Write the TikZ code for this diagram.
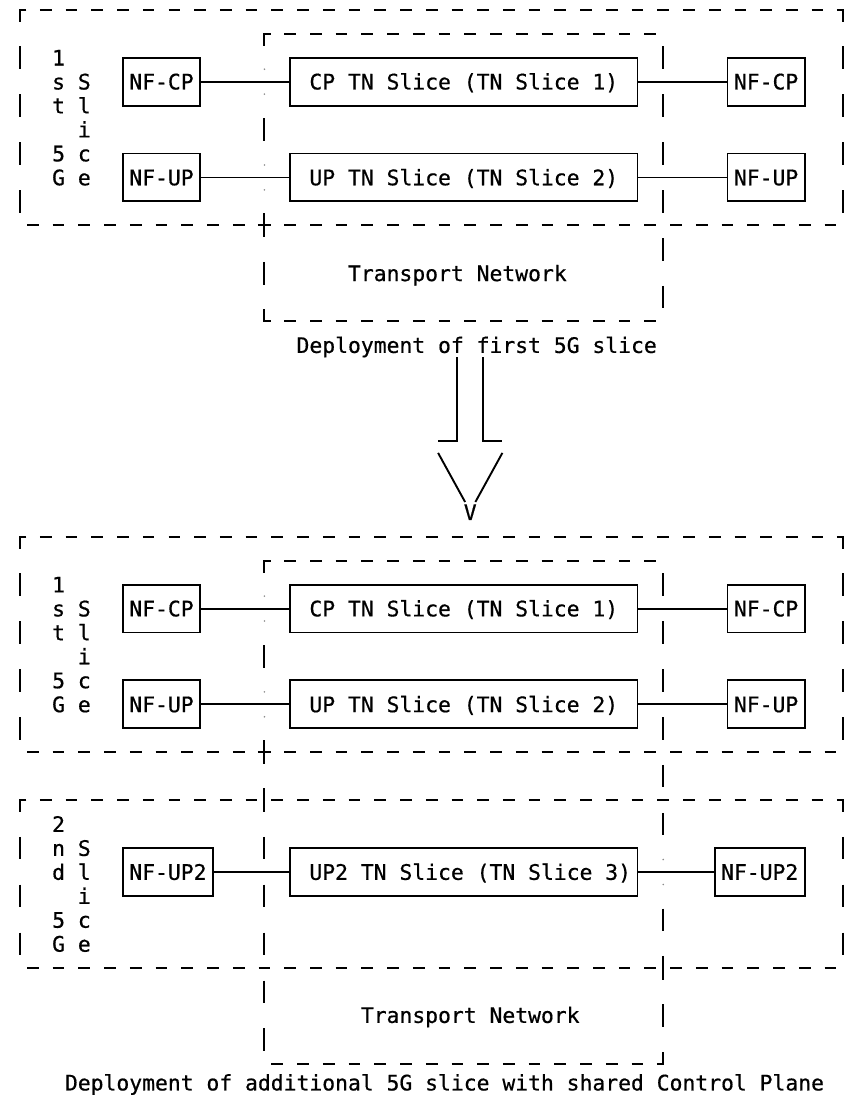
\documentclass[tikz,border=0pt]{standalone}
\usepackage{fontspec}
\newfontfamily\asciifont{DejaVu Sans Mono}[FakeBold=0.6]
% character cell of the monospaced grid
\def\colw{12.864pt}
\def\rowh{23.95pt}
\tikzset{
  ink/.style={line width=1.9pt, black},
  glyphs/.style={font={\asciifont\fontsize{21.37pt}{24pt}\selectfont}},
  nfbox/.style={draw, ink, glyphs, inner sep=0pt, minimum height=2*\rowh,
                text height=15.6pt, text depth=0pt},
  lbl/.style={glyphs, inner sep=0pt, anchor=base},
  link/.style={ink},
  speck/.style={fill=black!45, draw=none},
}
% a row of dash glyphs: row, first column, second column, last column
\newcommand\hdashes[4]{%
  \foreach \cc in {#2,#3,...,#4} \draw[ink] (\cc-0.455,#1) -- (\cc+0.455,#1);}
% vertical bar glyphs in one column: column, list of rows
\newcommand\vbars[2]{%
  \foreach \rr in {#2} \draw[ink] (#1,\rr-0.47) -- (#1,\rr+0.47);}
% tiny specks just above and below a line crossing a border
\newcommand\specks[2]{%
  \fill[speck] (#1,#2-0.52) circle (0.9pt);
  \fill[speck] (#1,#2+0.52) circle (0.9pt);}
\begin{document}
\begin{tikzpicture}[x=\colw, y=-\rowh]
\useasboundingbox (-20pt,9.8pt) rectangle (832pt,-1088.2pt);

% ================= first deployment =================
% 1st 5G slice region
\draw[ink] (0.5,0) -- (0,0) -- (0,0.5);
\hdashes{0}{2}{4}{62}
\draw[ink] (63.5,0) -- (64,0) -- (64,0.5);
\vbars{0}{2,4,6,8}
\vbars{64}{2,4,6,8}
\hdashes{9}{1}{3}{17}
\hdashes{9}{21}{23}{63}
\draw[ink] (18.5,9) -- (19.5,9) (19,8.5) -- (19,9.5);
% transport network region
\draw[ink] (19.5,1) -- (19,1) -- (19,1.5);
\hdashes{1}{21}{23}{49}
\vbars{19}{5,11}
\draw[ink] (19,12.5) -- (19,13) -- (19.5,13);
\hdashes{13}{21}{23}{49}
\vbars{50}{2,4,6,8,10,12}
\specks{19}{3}
\specks{19}{7}

% slice label
\foreach \ch/\cc/\rr [count=\i] in {1/3/2, s/3/3, t/3/4, 5/3/6, G/3/7,
    S/5/3, l/5/4, i/5/5, c/5/6, e/5/7}
  \node[lbl] (firstA\i) at (\cc,\rr+0.326) {\ch};

% network functions and TN slices
\node[nfbox, minimum width=6*\colw]  (cpLa)  at (11,3)   {NF-CP};
\node[nfbox, minimum width=27*\colw] (cpTNa) at (34.5,3) {CP TN Slice (TN Slice 1)};
\node[nfbox, minimum width=6*\colw]  (cpRa)  at (58,3)   {NF-CP};
\node[nfbox, minimum width=6*\colw]  (upLa)  at (11,7)   {NF-UP};
\node[nfbox, minimum width=27*\colw] (upTNa) at (34.5,7) {UP TN Slice (TN Slice 2)};
\node[nfbox, minimum width=6*\colw]  (upRa)  at (58,7)   {NF-UP};
\draw[link] (cpLa.east) -- (cpTNa.west);
\draw[link] (cpTNa.east) -- (cpRa.west);
\draw[link] (upLa.east) -- (upTNa.west);
\draw[link] (upTNa.east) -- (upRa.west);

\node[lbl] (tnA) at (34,11.326) {Transport Network};
\node[lbl] (capA) at (35.5,14.326) {Deployment of first 5G slice};

% ================= transition arrow =================
\coordinate (shaftL) at (34,14.5);
\coordinate (shaftR) at (36,14.5);
\draw[ink] (shaftL) -- (34,18) -- (32.5,18);
\draw[ink] (shaftR) -- (36,18) -- (37.5,18);
\draw[ink] (32.5,18.5) -- (34.6,20.55);
\draw[ink] (37.5,18.5) -- (35.4,20.55);
\node[lbl] (tip) at (35,21.3) {V};

% ================= second deployment =================
% 1st 5G slice region
\draw[ink] (0.5,22) -- (0,22) -- (0,22.5);
\hdashes{22}{2}{4}{62}
\draw[ink] (63.5,22) -- (64,22) -- (64,22.5);
\vbars{0}{24,26,28,30}
\vbars{64}{24,26,28,30}
\hdashes{31}{1}{3}{17}
\hdashes{31}{21}{23}{63}
\draw[ink] (18.5,31) -- (19.5,31) (19,30.5) -- (19,31.5);
% transport network region
\draw[ink] (19.5,23) -- (19,23) -- (19,23.5);
\hdashes{23}{21}{23}{49}
\vbars{19}{27}
\specks{19}{25}
\specks{19}{29}
\vbars{50}{24,26,28,30,32,34,38,42}
% 2nd 5G slice region
\draw[ink] (0.5,33) -- (0,33) -- (0,33.5);
\hdashes{33}{2}{4}{62}
\draw[ink] (63.5,33) -- (64,33) -- (64,33.5);
\draw[ink] (19,32.5) -- (19,33.5);
\vbars{0}{35,37,39}
\vbars{64}{35,37,39}
\vbars{19}{35,37,39,41,43}
\specks{50}{36}
\hdashes{40}{1}{3}{49}
\draw[ink] (50,39.5) -- (50,40.5);
\hdashes{40}{51}{53}{63}
\hdashes{44}{20}{22}{48}
\draw[ink] (49.5,44) -- (50,44) -- (50,43.5);

% slice labels
\foreach \ch/\cc/\rr [count=\i] in {1/3/24, s/3/25, t/3/26, 5/3/28, G/3/29,
    S/5/25, l/5/26, i/5/27, c/5/28, e/5/29}
  \node[lbl] (firstB\i) at (\cc,\rr+0.326) {\ch};
\foreach \ch/\cc/\rr [count=\i] in {2/3/34, n/3/35, d/3/36, 5/3/38, G/3/39,
    S/5/35, l/5/36, i/5/37, c/5/38, e/5/39}
  \node[lbl] (secondB\i) at (\cc,\rr+0.326) {\ch};

% network functions and TN slices
\node[nfbox, minimum width=6*\colw]  (cpLb)  at (11,25)   {NF-CP};
\node[nfbox, minimum width=27*\colw] (cpTNb) at (34.5,25) {CP TN Slice (TN Slice 1)};
\node[nfbox, minimum width=6*\colw]  (cpRb)  at (58,25)   {NF-CP};
\node[nfbox, minimum width=6*\colw]  (upLb)  at (11,29)   {NF-UP};
\node[nfbox, minimum width=27*\colw] (upTNb) at (34.5,29) {UP TN Slice (TN Slice 2)};
\node[nfbox, minimum width=6*\colw]  (upRb)  at (58,29)   {NF-UP};
\node[nfbox, minimum width=7*\colw]  (uptwoL)  at (11.5,36) {NF-UP2};
\node[nfbox, minimum width=27*\colw] (uptwoTN) at (34.5,36) {\hspace*{\colw}UP2 TN Slice (TN Slice 3)};
\node[nfbox, minimum width=7*\colw]  (uptwoR)  at (57.5,36) {NF-UP2};
\draw[link] (cpLb.east) -- (cpTNb.west);
\draw[link] (cpTNb.east) -- (cpRb.west);
\draw[link] (upLb.east) -- (upTNb.west);
\draw[link] (upTNb.east) -- (upRb.west);
\draw[link] (uptwoL.east) -- (uptwoTN.west);
\draw[link] (uptwoTN.east) -- (uptwoR.west);

\node[lbl] (tnB) at (35,42.3) {Transport Network};
\node[lbl] (capB) at (33,45.12) {Deployment of additional 5G slice with shared Control Plane};
\end{tikzpicture}
\end{document}
